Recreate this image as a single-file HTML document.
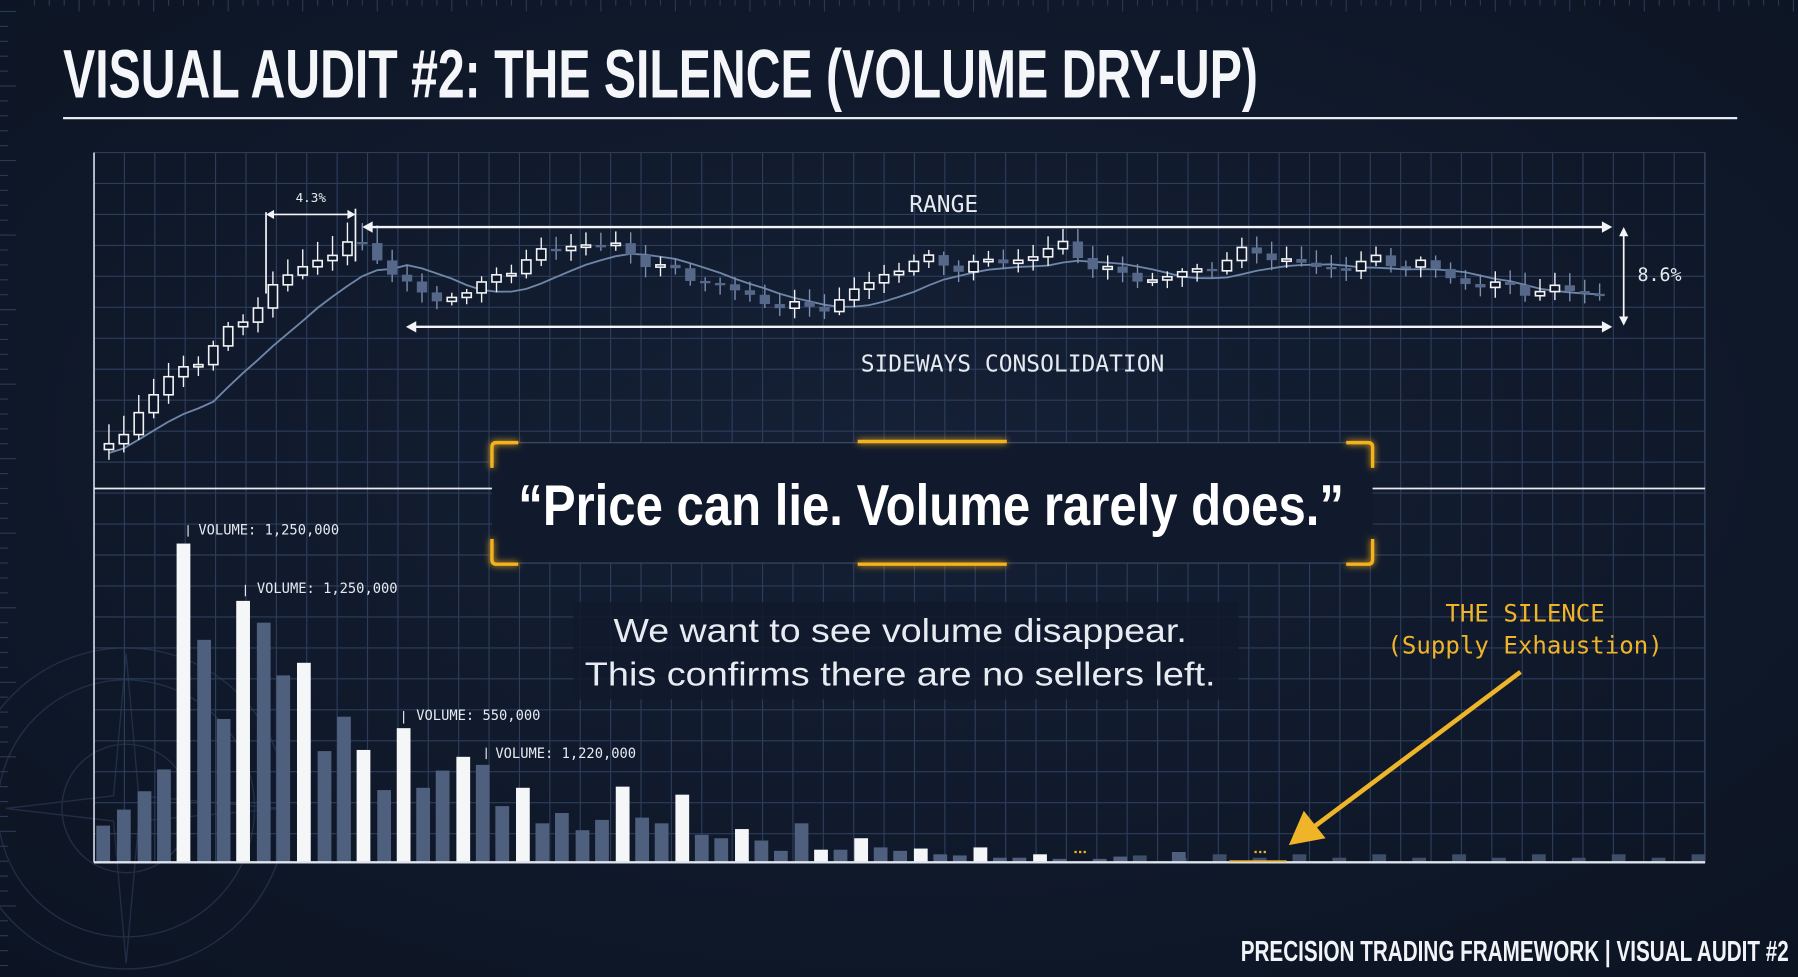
<!DOCTYPE html>
<html><head><meta charset="utf-8"><style>
html,body{margin:0;padding:0;background:#0f1829;overflow:hidden;width:1798px;height:977px}
svg{display:block;position:absolute;left:0;top:0}
.mono{font-family:"DejaVu Sans Mono","Liberation Mono",monospace}
.cond{font-family:"Liberation Sans",sans-serif;font-weight:bold}
</style></head><body>
<svg id="s" width="1798" height="977" viewBox="0 0 1568 852" xmlns="http://www.w3.org/2000/svg" overflow="hidden">
<defs>
<radialGradient id="bg" cx="50%" cy="45%" r="75%"><stop offset="0" stop-color="#152036"/><stop offset="1" stop-color="#0c1422"/></radialGradient>
<filter id="glow" x="-20%" y="-200%" width="140%" height="500%"><feGaussianBlur stdDeviation="3" result="b"/><feMerge><feMergeNode in="b"/><feMergeNode in="SourceGraphic"/></feMerge></filter>
</defs>
<rect width="1568" height="852" fill="url(#bg)"/>
<g id="ruler" stroke="#2a3852" stroke-width="1"></g>
<g stroke="#2a3852" fill="none" stroke-width="1.2" opacity="0.7">
<circle cx="110" cy="705" r="140"/><circle cx="110" cy="705" r="112"/><circle cx="110" cy="705" r="56"/>
<path d="M110 570 L121 694 L245 705 L121 716 L110 840 L99 716 L5 705 L99 694Z"/>
</g>
<g id="grid" stroke="#2c3d5a" stroke-width="1"></g>
<line x1="82" y1="133" x2="82" y2="752" stroke="#c9d2de" stroke-width="1.5"/>
<g id="ma"></g>
<g id="candles"></g>
<g id="vol"></g>
<line x1="82" y1="752" x2="1487" y2="752" stroke="#dfe5ee" stroke-width="2"/>
<text x="55" y="85" class="cond" font-size="60" fill="#f4f6f9" textLength="1042" lengthAdjust="spacingAndGlyphs">VISUAL AUDIT #2: THE SILENCE (VOLUME DRY-UP)</text>
<line x1="55" y1="103" x2="1515" y2="103" stroke="#e6ebf2" stroke-width="2"/>
<g stroke="#f2f4f7" stroke-width="1.5" fill="#f2f4f7">
<line x1="232" y1="185" x2="232" y2="256"/><line x1="310" y1="182" x2="310" y2="228"/>
<line x1="236" y1="187" x2="306" y2="187"/>
<path d="M232 187 l7 -4 v8z M310 187 l-7 -4 v8z" stroke="none"/>
<line x1="322" y1="198" x2="1398" y2="198" stroke-width="2"/>
<path d="M316 198 l9 -5 v10z M1406 198 l-9 -5 v10z" stroke="none"/>
<line x1="360" y1="285" x2="1398" y2="285" stroke-width="2"/>
<path d="M354 285 l9 -5 v10z M1406 285 l-9 -5 v10z" stroke="none"/>
<line x1="1416" y1="204" x2="1416" y2="278"/>
<path d="M1416 198 l-4 8 h8z M1416 284 l-4 -8 h8z" stroke="none"/>
</g>
<text x="271" y="176" class="mono" font-size="11" fill="#e6ebf2" text-anchor="middle">4.3%</text>
<text x="823" y="185" class="mono" font-size="20" fill="#e6ebf2" text-anchor="middle">RANGE</text>
<text x="883" y="324" class="mono" font-size="20" fill="#e6ebf2" text-anchor="middle">SIDEWAYS CONSOLIDATION</text>
<text x="1428" y="245" class="mono" font-size="16" fill="#e6ebf2">8.6%</text>
<line x1="82" y1="426" x2="1487" y2="426" stroke="#e6ebf2" stroke-width="1.5"/>
<rect x="429" y="386" width="768" height="105" fill="#111a2c"/>
<line x1="430" y1="386" x2="1196" y2="386" stroke="#3a4a66" stroke-width="1"/>
<line x1="430" y1="491" x2="1196" y2="491" stroke="#3a4a66" stroke-width="1"/>
<g stroke="#f5b21c" stroke-width="3" fill="none" filter="url(#glow)">
<path d="M429 408 V390 q0 -4 4 -4 H452"/><path d="M1197 408 V390 q0 -4 -4 -4 H1174"/>
<path d="M429 470 V488 q0 4 4 4 H452"/><path d="M1197 470 V488 q0 4 -4 4 H1174"/>
<line x1="748" y1="385" x2="878" y2="385"/><line x1="748" y1="492" x2="878" y2="492"/>
</g>
<text x="812" y="458" class="cond" font-size="50" fill="#ffffff" text-anchor="middle" textLength="720" lengthAdjust="spacingAndGlyphs">“Price can lie. Volume rarely does.”</text>
<rect x="500" y="525" width="580" height="85" fill="#111a2c" opacity="0.85"/>
<text x="785" y="560" font-family="Liberation Sans,sans-serif" font-size="29" fill="#e8ecf2" text-anchor="middle" textLength="500" lengthAdjust="spacingAndGlyphs">We want to see volume disappear.</text>
<text x="785" y="598" font-family="Liberation Sans,sans-serif" font-size="29" fill="#e8ecf2" text-anchor="middle" textLength="550" lengthAdjust="spacingAndGlyphs">This confirms there are no sellers left.</text>
<g class="mono" font-size="12" fill="#e6ebf2">
<text x="173" y="466">VOLUME: 1,250,000</text>
<text x="224" y="517">VOLUME: 1,250,000</text>
<text x="363" y="628">VOLUME: 550,000</text>
<text x="432" y="661">VOLUME: 1,220,000</text>
</g>
<g stroke="#e6ebf2" stroke-width="1"><line x1="164" y1="458" x2="164" y2="468"/><line x1="214" y1="510" x2="214" y2="520"/><line x1="352" y1="620" x2="352" y2="631"/><line x1="424" y1="652" x2="424" y2="662"/></g>
<text x="1330" y="542" class="mono" font-size="21" fill="#f0b429" text-anchor="middle">THE SILENCE</text>
<text x="1330" y="570" class="mono" font-size="21" fill="#f0b429" text-anchor="middle">(Supply Exhaustion)</text>
<line x1="1326" y1="586" x2="1146" y2="721" stroke="#f0b429" stroke-width="4"/>
<path d="M1124 737 L1137 707 L1156 731Z" fill="#f0b429"/>
<g fill="#f0b429"><rect x="937" y="742" width="2" height="2"/><rect x="941" y="742" width="2" height="2"/><rect x="945" y="742" width="2" height="2"/><rect x="1094" y="742" width="2" height="2"/><rect x="1098" y="742" width="2" height="2"/><rect x="1102" y="742" width="2" height="2"/><rect x="1072" y="750" width="50" height="2" opacity="0.7"/></g>
<text x="1560" y="838" class="cond" font-size="25" fill="#f0f3f7" text-anchor="end" textLength="478" lengthAdjust="spacingAndGlyphs">PRECISION TRADING FRAMEWORK | VISUAL AUDIT #2</text>
</svg>
<script>
const NS="http://www.w3.org/2000/svg";
function el(p,t,a){const e=document.createElementNS(NS,t);for(const k in a)e.setAttribute(k,a[k]);p.appendChild(e);return e;}
const g=document.getElementById('grid');
for(let x=82;x<=1488;x+=26.5)el(g,'line',{x1:x,y1:133,x2:x,y2:752});
for(let y=133;y<=753;y+=27)el(g,'line',{x1:82,y1:y,x2:1487,y2:y});
el(g,'line',{x1:1487,y1:133,x2:1487,y2:752});
const r=document.getElementById('ruler');
for(let y=10;y<845;y+=13)el(r,'line',{x1:0,y1:y,x2:(y%65<13?14:7),y2:y});
for(let x=30;x<1565;x+=13)el(r,'line',{x1:x,y1:0,x2:x,y2:(x%65<13?10:5)});
const kp=[[95,388],[150,328],[200,292],[232,255],[260,236],[298,213],[325,218],[352,248],[380,262],[420,250],[450,230],[500,212],[540,216],[580,236],[620,246],[650,258],[690,268],[710,270],[740,258],[770,240],[800,226],[830,232],[880,228],[930,214],[960,236],[1000,244],[1040,238],[1080,222],[1100,220],[1150,235],[1200,228],[1240,230],[1270,245],[1320,252],[1395,255]];
function interp(x){for(let i=0;i<kp.length-1;i++){if(x<=kp[i+1][0]){const t=(x-kp[i][0])/(kp[i+1][0]-kp[i][0]);return kp[i][1]+t*(kp[i+1][1]-kp[i][1]);}}return kp[kp.length-1][1];}
const c=document.getElementById('candles');const closes=[];const xs=[];
let prev=392;
for(let x=95;x<=1396;x+=13){
 const n=Math.sin(x*0.37)*6+Math.sin(x*1.13)*4;
 const cl=interp(x)+n*(x<300?0.8:0.6);
 const op=prev;const top=Math.min(op,cl),bot=Math.max(op,cl);
 const up=cl<op;
 const wt=top-3-Math.abs(Math.sin(x*0.71))*(x<330?14:8),wb=bot+3+Math.abs(Math.cos(x*0.53))*6;
 el(c,'line',{x1:x,y1:wt,x2:x,y2:wb,stroke:up?'#f2f4f7':'#7d8fae','stroke-width':1.2});
 const h=Math.max(bot-top,2);
 if(up)el(c,'rect',{x:x-4,y:top,width:8,height:h,fill:'#0f1829',stroke:'#f2f4f7','stroke-width':1.4});
 else el(c,'rect',{x:x-4.5,y:top,width:9,height:h,fill:'#56688a'});
 closes.push(cl);xs.push(x);prev=cl;
}
let d='';
for(let i=0;i<closes.length;i++){let s=0,k=0;for(let j=Math.max(0,i-7);j<=i;j++){s+=closes[j];k++;}const v=s/k+(i<20?8:4);d+=(i?'L':'M')+xs[i]+' '+v.toFixed(1)+' ';}
el(document.getElementById('ma'),'path',{d:d,fill:'none',stroke:'#6f86a8','stroke-width':1.6});
const bars=[[90,720],[108,706],[126,690],[143,671],[160,474,1],[178,558],[195,627],[212,524,1],[230,543],[247,589],[265,578,1],[283,655],[300,625],[317,654,1],[335,689],[352,635,1],[369,687],[386,672],[404,660,1],[421,667],[438,703],[456,687,1],[473,718],[490,709],[508,724],[525,715],[543,686,1],[560,713],[577,718],[595,693,1],[612,728],[629,731],[647,723,1],[664,733],[681,742],[699,718],[716,741,1],[733,741],[751,731,1],[768,739],[785,742],[803,740,1],[820,745],[837,746],[855,739,1],[872,748],[889,748],[907,745,1],[924,749],[959,749],[977,747]];
const vg=document.getElementById('vol');
for(const b of bars)el(vg,'rect',{x:b[0]-6,y:b[1],width:12,height:752-b[1],fill:b[2]?'#f4f6f8':'#4f5f7e'});
for(let x=994;x<1485;x+=17.4){const h=Math.max(0,Math.round(2+2*Math.sin(x*0.9)+(x%70<18?3:0)));if(h>0)el(vg,'rect',{x:x-6,y:752-h,width:12,height:h,fill:'#3e4d68'});}
el(vg,'rect',{x:1022,y:743,width:12,height:9,fill:'#4f5f7e'});
</script>
</body></html>
